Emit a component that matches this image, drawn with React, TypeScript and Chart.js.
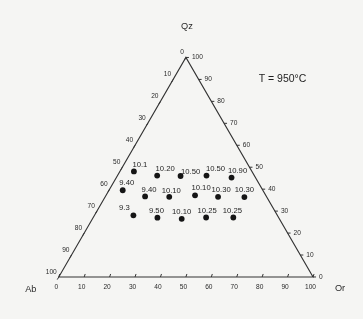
import React, { useEffect, useRef } from "react";
import { Chart, registerables } from "chart.js";

Chart.register(...registerables);

// Ternary data: Qz (apex), Or (bottom-right), Ab = 100 - Qz - Or (bottom-left)
const qzValues = [48.1, 46.2, 46.0, 46.2, 45.3, 39.5, 36.7, 36.5, 37.2, 36.5, 36.4, 28.1, 27.0, 26.5, 27.1, 27.1];
const orValues = [5.5, 15.6, 24.9, 35.0, 45.3, 5.4, 15.6, 25.2, 35.0, 44.4, 54.8, 15.3, 25.3, 35.1, 44.4, 55.1];
const pointLabels = ["10.1", "10.20", "10.50", "10.50", "10.90", "9.40", "9.40", "10.10", "10.10", "10.30", "10.30", "9.3", "9.50", "10.10", "10.25", "10.25"];
const tickValues = [0, 10, 20, 30, 40, 50, 60, 70, 80, 90, 100];
const cornerLabels = { top: "Qz", left: "Ab", right: "Or" };
const titleText = "T = 950°C";

// label placement (style, px offsets of label centre from point)
const labelOffsets: [number, number][] = [
  [6, -7], [8, -7], [10, -4], [9, -7], [6, -7],
  [4, -7], [4, -7], [2, -6], [6, -7], [3, -7], [0, -7],
  [-9, -7], [-1, -7], [0, -7], [1, -7], [-1, -7],
];

const H = Math.sqrt(3) / 2;
const toXY = (qz: number, or: number) => ({ x: or + qz / 2, y: qz * H });

export default function App() {
  const ref = useRef<HTMLCanvasElement>(null);
  useEffect(() => {
    document.body.style.margin = "0";
    const canvas = ref.current!;
    const pts = qzValues.map((q, i) => toXY(q, orValues[i]));
    const tri = [toXY(0, 0), toXY(0, 100), toXY(100, 0), toXY(0, 0)];
    const font = (s: number) => `${s}px "Liberation Sans", Arial, sans-serif`;

    const plugin = {
      id: "ternary",
      beforeDraw(chart: any) {
        const c = chart.ctx;
        c.save();
        c.fillStyle = "#f5f5f3";
        c.fillRect(0, 0, chart.width, chart.height);
        c.restore();
      },
      afterDatasetsDraw(chart: any) {
        const c = chart.ctx as CanvasRenderingContext2D;
        const xs = chart.scales.x, ys = chart.scales.y;
        const P = (p: { x: number; y: number }) => ({ x: xs.getPixelForValue(p.x), y: ys.getPixelForValue(p.y) });
        c.save();
        c.strokeStyle = "#333";
        c.fillStyle = "#2a2a2a";
        c.lineWidth = 1;
        c.font = font(6.6);
        c.textBaseline = "middle";
        tickValues.forEach((v) => {
          // bottom axis (Or)
          const b = P(toXY(0, v));
          c.beginPath(); c.moveTo(b.x, b.y); c.lineTo(b.x + 1, b.y - 3); c.stroke();
          c.textAlign = "center";
          c.fillText(String(v), b.x - 2.5, b.y + 10);
          // right side (Qz)
          const r = P(toXY(v, 100 - v));
          c.beginPath(); c.moveTo(r.x, r.y); c.lineTo(r.x + 3, r.y); c.stroke();
          c.textAlign = "left";
          c.fillText(String(v), r.x + 6, r.y);
          // left side (Ab)
          const l = P(toXY(100 - v, 0));
          c.beginPath(); c.moveTo(l.x, l.y); c.lineTo(l.x - 1.5, l.y + 2.6); c.stroke();
          c.textAlign = "right";
          c.fillText(String(v), l.x - 2, l.y - 5);
        });
        // point labels
        c.font = font(7.7);
        c.textAlign = "center";
        c.fillStyle = "#1e1e1e";
        pts.forEach((p, i) => {
          const q = P(p);
          const [dx, dy] = labelOffsets[i];
          c.fillText(pointLabels[i], q.x + dx, q.y + dy);
        });
        // corner labels
        c.font = font(9.2);
        c.fillStyle = "#2a2a2a";
        const top = P(toXY(100, 0));
        const bl = P(toXY(0, 0));
        const br = P(toXY(0, 100));
        c.fillText(cornerLabels.top, top.x + 1, top.y - 31);
        c.fillText(cornerLabels.left, bl.x - 28, bl.y + 12);
        c.fillText(cornerLabels.right, br.x + 27, br.y + 11);
        // title
        c.font = font(10.5);
        c.fillStyle = "#1e1e1e";
        c.fillText(titleText, xs.getPixelForValue(88), ys.getPixelForValue(78));
        c.restore();
      },
    };

    const chart = new Chart(canvas, {
      type: "scatter",
      data: {
        datasets: [
          {
            data: tri,
            showLine: true,
            borderColor: "#333",
            borderWidth: 1.1,
            pointRadius: 0,
            fill: false,
          } as any,
          {
            data: pts,
            pointRadius: 2.9,
            pointBackgroundColor: "#151515",
            pointBorderWidth: 0,
            borderColor: "#151515",
          },
        ],
      },
      options: {
        animation: false,
        responsive: false,
        events: [],
        layout: { padding: 0 },
        plugins: { legend: { display: false }, tooltip: { enabled: false } },
        scales: {
          x: { type: "linear", display: false, min: -56 / 2.6, max: (363 - 56) / 2.6 },
          y: { type: "linear", display: false, min: -(319 - 280) / 2.6, max: 280 / 2.6 },
        },
      },
      plugins: [plugin],
    });
    return () => chart.destroy();
  }, []);
  return <canvas ref={ref} width={363} height={319} style={{ display: "block" }} />;
}
